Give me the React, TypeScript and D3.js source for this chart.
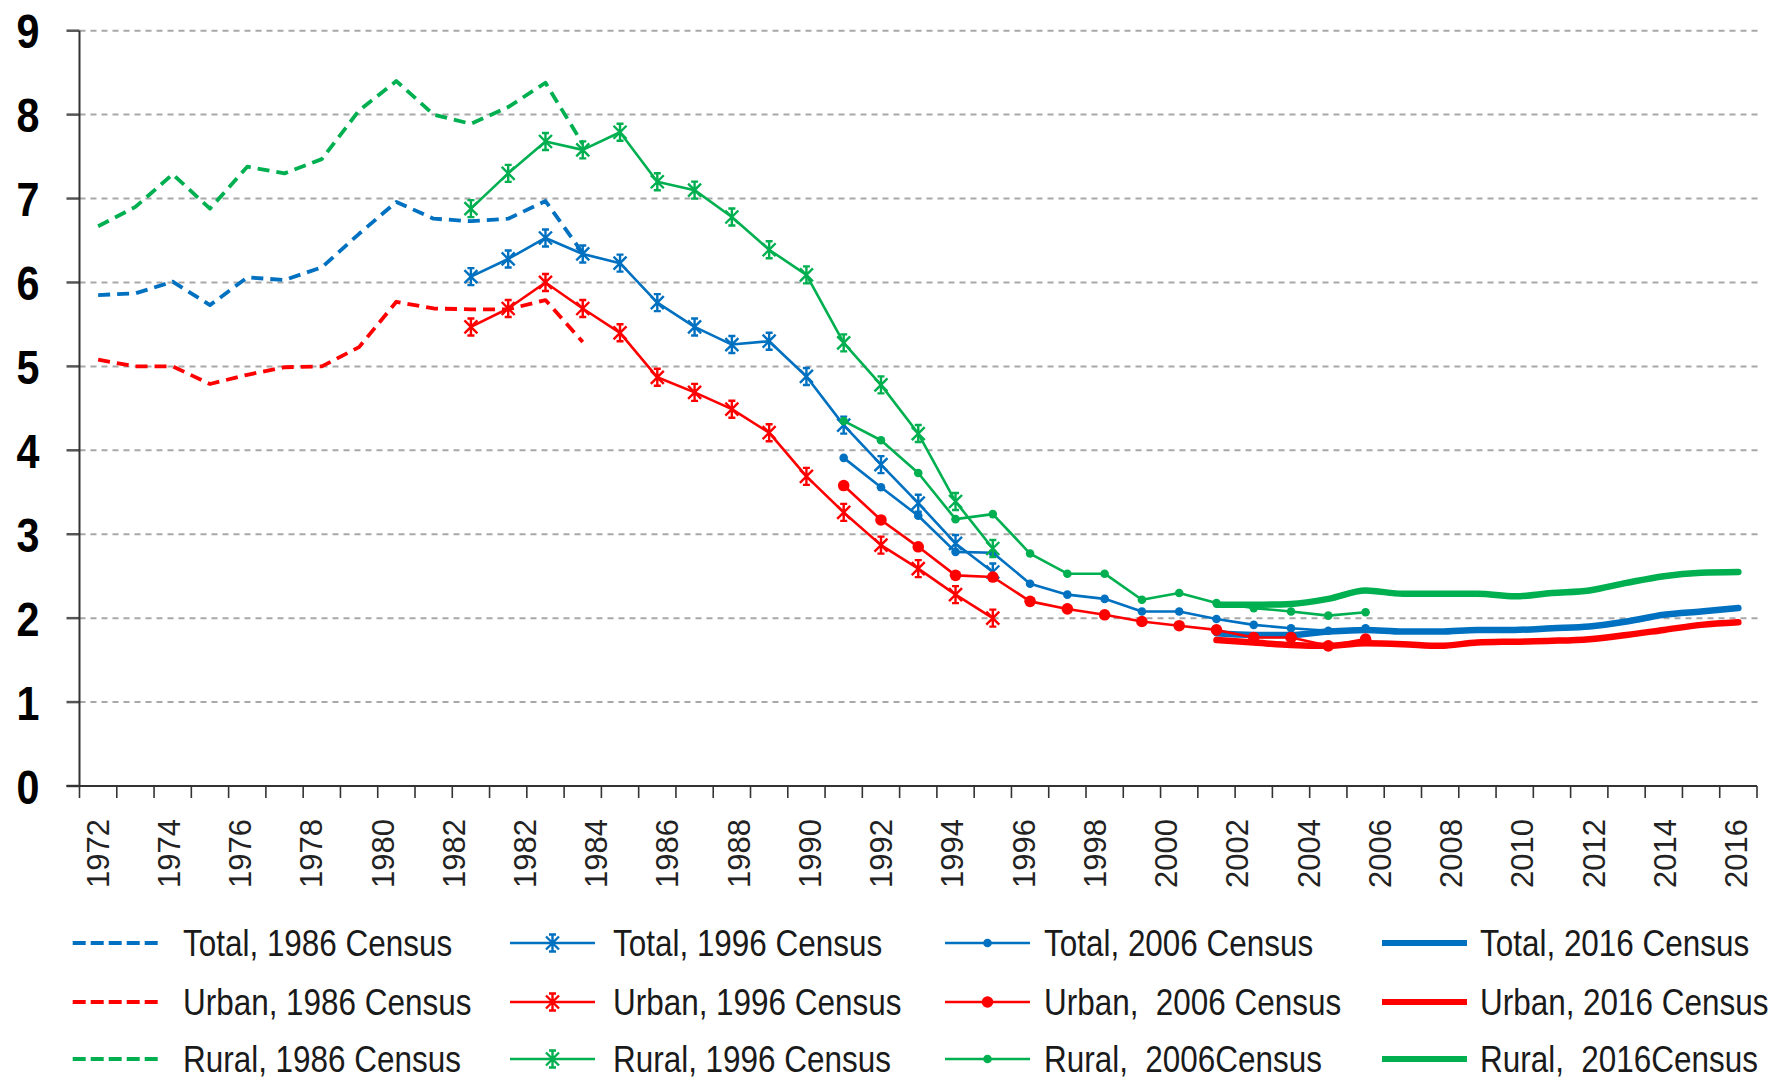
import React from 'react';
import * as d3 from 'd3';

// Categories: one per year
const years: number[] = [
  1972, 1973, 1974, 1975, 1976, 1977, 1978, 1979, 1980, 1981, 1982, 1983, 1984, 1985,
  1986, 1987, 1988, 1989, 1990, 1991, 1992, 1993, 1994, 1995, 1996, 1997, 1998, 1999,
  2000, 2001, 2002, 2003, 2004, 2005, 2006, 2007, 2008, 2009, 2010, 2011, 2012, 2013,
  2014, 2015, 2016,
];

// Tick labels as printed on the original axis
const xTickLabels: string[] = [
  '1972', '1974', '1976', '1978', '1980', '1982', '1982', '1984', '1986', '1988', '1990', '1992',
  '1994', '1996', '1998', '2000', '2002', '2004', '2006', '2008', '2010', '2012', '2014', '2016',
];

const yTicks: number[] = [0, 1, 2, 3, 4, 5, 6, 7, 8, 9];

// 1986 Census (1972-1985)
const census1986Years: number[] = [1972, 1973, 1974, 1975, 1976, 1977, 1978, 1979, 1980, 1981, 1982, 1983, 1984, 1985];
const total1986: number[] = [5.85, 5.87, 6.01, 5.73, 6.06, 6.03, 6.18, 6.58, 6.96, 6.76, 6.73, 6.76, 6.97, 6.35];
const urban1986: number[] = [5.08, 5.0, 5.0, 4.79, 4.9, 4.99, 5.0, 5.23, 5.77, 5.69, 5.68, 5.68, 5.79, 5.29];
const rural1986: number[] = [6.67, 6.9, 7.29, 6.88, 7.38, 7.3, 7.47, 8.05, 8.4, 8.0, 7.89, 8.09, 8.38, 7.65];

// 1996 Census (1982-1996)
const census1996Years: number[] = [1982, 1983, 1984, 1985, 1986, 1987, 1988, 1989, 1990, 1991, 1992, 1993, 1994, 1995, 1996];
const total1996: number[] = [6.07, 6.28, 6.53, 6.34, 6.23, 5.76, 5.47, 5.26, 5.3, 4.88, 4.3, 3.83, 3.37, 2.89, 2.55];
const urban1996: number[] = [5.47, 5.69, 6.0, 5.69, 5.4, 4.87, 4.69, 4.49, 4.21, 3.69, 3.26, 2.87, 2.59, 2.28, 2.0];
const rural1996: number[] = [6.88, 7.3, 7.68, 7.58, 7.79, 7.2, 7.1, 6.78, 6.39, 6.09, 5.28, 4.78, 4.2, 3.39, 2.83];

// 2006 Census (1992-2006)
const census2006Years: number[] = [1992, 1993, 1994, 1995, 1996, 1997, 1998, 1999, 2000, 2001, 2002, 2003, 2004, 2005, 2006];
const total2006: number[] = [3.91, 3.56, 3.22, 2.79, 2.78, 2.41, 2.28, 2.23, 2.08, 2.08, 1.99, 1.92, 1.88, 1.85, 1.88];
const urban2006: number[] = [3.58, 3.17, 2.85, 2.51, 2.49, 2.2, 2.11, 2.04, 1.96, 1.91, 1.86, 1.77, 1.77, 1.67, 1.75];
const rural2006: number[] = [4.35, 4.12, 3.73, 3.18, 3.24, 2.77, 2.53, 2.53, 2.22, 2.3, 2.18, 2.12, 2.08, 2.03, 2.07];

// 2016 Census (2002-2016)
const census2016Years: number[] = [2002, 2003, 2004, 2005, 2006, 2007, 2008, 2009, 2010, 2011, 2012, 2013, 2014, 2015, 2016];
const total2016: number[] = [1.82, 1.8, 1.8, 1.84, 1.86, 1.84, 1.84, 1.86, 1.86, 1.88, 1.9, 1.96, 2.04, 2.08, 2.12];
const urban2016: number[] = [1.74, 1.71, 1.68, 1.67, 1.7, 1.69, 1.67, 1.71, 1.72, 1.73, 1.75, 1.8, 1.86, 1.92, 1.95];
const rural2016: number[] = [2.16, 2.16, 2.17, 2.23, 2.33, 2.29, 2.29, 2.29, 2.26, 2.3, 2.33, 2.42, 2.5, 2.54, 2.55];

const groups: string[] = ['Total', 'Urban', 'Rural'];
const groupColors: string[] = ['#0070C0', '#FF0000', '#00B050'];

const legendLabels: string[][] = [
  ['Total, 1986 Census', 'Urban, 1986 Census', 'Rural, 1986 Census'],
  ['Total, 1996 Census', 'Urban, 1996 Census', 'Rural, 1996 Census'],
  ['Total, 2006 Census', 'Urban,  2006 Census', 'Rural,  2006Census'],
  ['Total, 2016 Census', 'Urban, 2016 Census', 'Rural,  2016Census'],
];

type Style = 'dash' | 'star' | 'dot' | 'thick';

const censuses: { style: Style; years: number[]; values: number[][] }[] = [
  { style: 'dash', years: census1986Years, values: [total1986, urban1986, rural1986] },
  { style: 'star', years: census1996Years, values: [total1996, urban1996, rural1996] },
  { style: 'dot', years: census2006Years, values: [total2006, urban2006, rural2006] },
  { style: 'thick', years: census2016Years, values: [total2016, urban2016, rural2016] },
];

const W = 1769;
const H = 1081;
const plotLeft = 79.5;
const plotRight = 1757;
const plotTop = 30.7;
const plotBottom = 786;

const FONT = '"Liberation Sans", Arial, "Noto Sans", sans-serif';

const starPath = 'M-6.5,-6.5L6.5,6.5M-6.5,6.5L6.5,-6.5M0,-8.5L0,8.5M-3.5,-8.5L3.5,-8.5M-3.5,8.5L3.5,8.5';

function lineStyle(style: Style) {
  switch (style) {
    case 'dash':
      return { width: 3.8, dash: '12,7' };
    case 'star':
      return { width: 2.6, dash: undefined };
    case 'dot':
      return { width: 2.6, dash: undefined };
    default:
      return { width: 6.5, dash: undefined };
  }
}

export default function App() {
  const x = d3.scaleBand<number>().domain(years).range([plotLeft, plotRight]).paddingInner(0).paddingOuter(0);
  const cx = (yr: number) => (x(yr) as number) + x.bandwidth() / 2;
  const y = d3.scaleLinear().domain([0, 9]).range([plotBottom, plotTop]);
  const labelScale = d3
    .scalePoint<number>()
    .domain(xTickLabels.map((_, i) => i))
    .range([97.6, 1736]);

  const tickBounds = years.map((yr) => x(yr) as number).concat([plotRight]);

  const linearLine = d3
    .line<[number, number]>()
    .x((d) => cx(d[0]))
    .y((d) => y(d[1]));
  const smoothLine = d3
    .line<[number, number]>()
    .x((d) => cx(d[0]))
    .y((d) => y(d[1]))
    .curve(d3.curveMonotoneX);

  const seriesEls: React.ReactNode[] = [];
  groups.forEach((g, gi) => {
    censuses.forEach((c, ci) => {
      const pts: [number, number][] = c.years.map((yr, i) => [yr, c.values[gi][i]]);
      const st = lineStyle(c.style);
      const color = groupColors[gi];
      const path = (c.style === 'thick' ? smoothLine : linearLine)(pts) || '';
      seriesEls.push(
        <g key={`${g}-${ci}`}>
          <path
            d={path}
            fill="none"
            stroke={color}
            strokeWidth={st.width}
            strokeDasharray={st.dash}
            strokeLinejoin="round"
            strokeLinecap={c.style === 'dash' ? 'butt' : 'round'}
          />
          {c.style === 'star' &&
            pts.map((p, i) => (
              <path
                key={i}
                d={starPath}
                transform={`translate(${cx(p[0])},${y(p[1])})`}
                fill="none"
                stroke={color}
                strokeWidth={2.4}
              />
            ))}
          {c.style === 'dot' &&
            pts.map((p, i) => (
              <circle key={i} cx={cx(p[0])} cy={y(p[1])} r={gi === 1 ? 5.8 : 4.3} fill={color} />
            ))}
        </g>
      );
    });
  });

  const legendCols = [
    { x1: 72.7, x2: 158, tx: 183 },
    { x1: 510, x2: 595, tx: 613 },
    { x1: 945, x2: 1030, tx: 1044 },
    { x1: 1382, x2: 1467, tx: 1480 },
  ];
  const legendRows = [943, 1002, 1059];

  return (
    <svg
      width={W}
      height={H}
      viewBox={`0 0 ${W} ${H}`}
      style={{ position: 'absolute', left: 0, top: 0, background: '#fff' }}
    >
      <rect x={0} y={0} width={W} height={H} fill="#fff" />
      {/* gridlines */}
      {yTicks
        .filter((t) => t > 0)
        .map((t) => (
          <line
            key={`g${t}`}
            x1={plotLeft}
            x2={1760}
            y1={y(t)}
            y2={y(t)}
            stroke="#a8a8a8"
            strokeWidth={2}
            strokeDasharray="6,5"
          />
        ))}
      {/* y ticks */}
      {yTicks.map((t) => (
        <line key={`yt${t}`} x1={66.5} x2={plotLeft} y1={y(t)} y2={y(t)} stroke="#555" strokeWidth={2.5} />
      ))}
      {/* y labels */}
      {yTicks.map((t) => (
        <text
          key={`yl${t}`}
          transform={`translate(39.5,${y(t) + 17.5}) scale(0.86,1)`}
          textAnchor="end"
          fontFamily={FONT}
          fontWeight="bold"
          fontSize={48}
          fill="#000"
        >
          {t}
        </text>
      ))}
      {/* axes */}
      <line x1={plotLeft} x2={plotLeft} y1={plotTop} y2={plotBottom} stroke="#333" strokeWidth={2} />
      <line x1={66.5} x2={plotRight} y1={plotBottom} y2={plotBottom} stroke="#333" strokeWidth={2.2} />
      {tickBounds.map((tx, i) => (
        <line key={`xt${i}`} x1={tx} x2={tx} y1={plotBottom} y2={plotBottom + 12} stroke="#333" strokeWidth={1.6} />
      ))}
      {/* x labels */}
      {xTickLabels.map((lab, i) => (
        <text
          key={`xl${i}`}
          transform={`translate(${(labelScale(i) as number) + 11},819) rotate(-90)`}
          textAnchor="end"
          fontFamily={FONT}
          fontSize={31}
          fill="#222"
        >
          {lab}
        </text>
      ))}
      {/* series */}
      {seriesEls}
      {/* legend */}
      {censuses.map((c, ci) =>
        groups.map((g, gi) => {
          const col = legendCols[ci];
          const ry = legendRows[gi];
          const st = lineStyle(c.style);
          const color = groupColors[gi];
          const mid = (col.x1 + col.x2) / 2;
          return (
            <g key={`lg${ci}-${gi}`}>
              <line
                x1={col.x1}
                x2={col.x2}
                y1={ry}
                y2={ry}
                stroke={color}
                strokeWidth={c.style === 'thick' ? 6 : st.width}
                strokeDasharray={c.style === 'dash' ? '13,5' : undefined}
              />
              {c.style === 'star' && (
                <path d={starPath} transform={`translate(${mid},${ry})`} fill="none" stroke={color} strokeWidth={2.4} />
              )}
              {c.style === 'dot' && <circle cx={mid} cy={ry} r={gi === 1 ? 5.8 : 4.3} fill={color} />}
              <text
                transform={`translate(${col.tx},${ry + 13}) scale(0.85,1)`}
                fontFamily={FONT}
                fontSize={37}
                fill="#1a1a1a"
                style={{ whiteSpace: 'pre' }}
              >
                {legendLabels[ci][gi]}
              </text>
            </g>
          );
        })
      )}
    </svg>
  );
}
